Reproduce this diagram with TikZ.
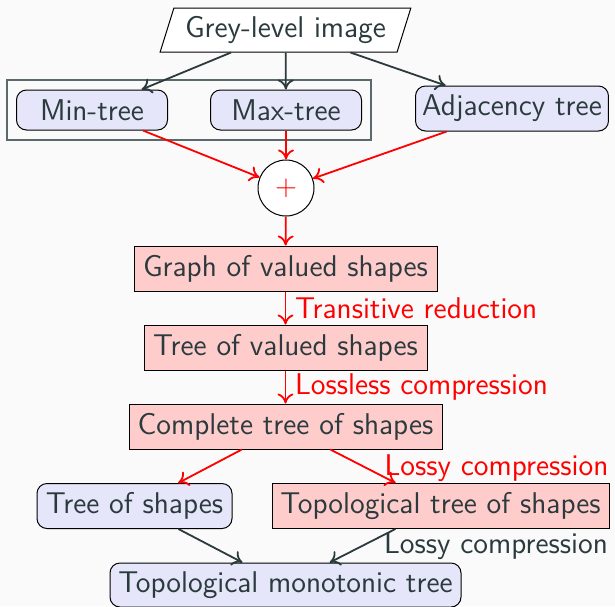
\documentclass[tikz,border=0pt]{standalone}
\usetikzlibrary{shapes.geometric,arrows.meta,calc}
\definecolor{bg}{HTML}{FAFAFA}
\definecolor{ink}{HTML}{2B3A3C}
\definecolor{bluefill}{HTML}{E6E6FA}
\definecolor{redfill}{HTML}{FFCCCC}
\definecolor{grpline}{HTML}{5A6A6A}
\tikzset{
  every node/.style={font=\sffamily\fontsize{15}{18}\selectfont, text=ink},
  bluebox/.style={draw=black, fill=bluefill, rounded corners=5pt, line width=0.5pt, minimum height=22.5pt},
  redbox/.style={draw=black, fill=redfill, line width=0.5pt, minimum height=22.5pt},
  darr/.style={draw=ink, line width=0.9pt, -{To[length=5pt,width=8pt]}},
  rarr/.style={draw=red, line width=0.9pt, -{To[length=5pt,width=8pt]}},
  rlabel/.style={text=red},
}
\begin{document}
\begin{tikzpicture}[x=0.5pt,y=-0.5pt]
  \fill[bg] (0,0) rectangle (615,606);
  \useasboundingbox (0,0) rectangle (615,606);

  % source image
  \node[trapezium, trapezium left angle=72, trapezium right angle=108,
        trapezium stretches=true, draw=black, fill=white, line width=0.5pt,
        minimum width=125.5pt, minimum height=22pt] (grey) at (285.5,30) {Grey-level image};

  % component trees
  \node[draw=grpline, line width=0.6pt, minimum width=182pt, minimum height=30pt] (grp) at (189,110) {};
  \node[bluebox, minimum width=75.5pt, minimum height=20pt] (min) at (92,110) {Min-tree};
  \node[bluebox, minimum width=75.5pt, minimum height=20pt] (max) at (286,110) {Max-tree};
  \node[bluebox, minimum width=95.5pt] (adj) at (512,108.5) {Adjacency tree};

  % merge
  \node[circle, draw=black, fill=white, line width=0.5pt, minimum size=28pt, inner sep=0pt] (plus) at (286,188) {\textcolor{red}{$+$}};

  % shape graphs and trees
  \node[redbox, minimum width=151.5pt] (gvs) at (285.5,268.5) {Graph of valued shapes};
  \node[redbox, minimum width=141.5pt] (tvs) at (285.5,347.5) {Tree of valued shapes};
  \node[redbox, minimum width=156.5pt] (cts) at (285.5,426.5) {Complete tree of shapes};
  \node[bluebox, minimum width=97.5pt] (ts) at (134.5,506) {Tree of shapes};
  \node[redbox, minimum width=168.5pt] (tts) at (440.5,506) {Topological tree of shapes};
  \node[bluebox, minimum width=175.5pt, minimum height=22pt] (tmt) at (285.5,585) {Topological monotonic tree};

  % connectors
  \draw[darr] (grey) -- (min);
  \draw[darr] (grey) -- (max);
  \draw[darr] (grey) -- (adj);
  \draw[rarr] (min) -- (plus);
  \draw[rarr] (max) -- (plus);
  \draw[rarr] (adj) -- (plus);
  \draw[rarr] (plus) -- (gvs);
  \draw[rarr] (gvs) -- node[right, rlabel, xshift=1pt] {Transitive reduction} (tvs);
  \draw[rarr] (tvs) -- node[right, rlabel, xshift=1pt] {Lossless compression} (cts);
  \draw[rarr] (cts) -- (ts);
  \draw[rarr] (cts) -- node[right, rlabel, xshift=7pt, yshift=-1pt] {Lossy compression} (tts);
  \draw[darr] (ts) -- (tmt);
  \draw[darr] (tts) -- node[right, xshift=7pt] {Lossy compression} (tmt);
\end{tikzpicture}
\end{document}
